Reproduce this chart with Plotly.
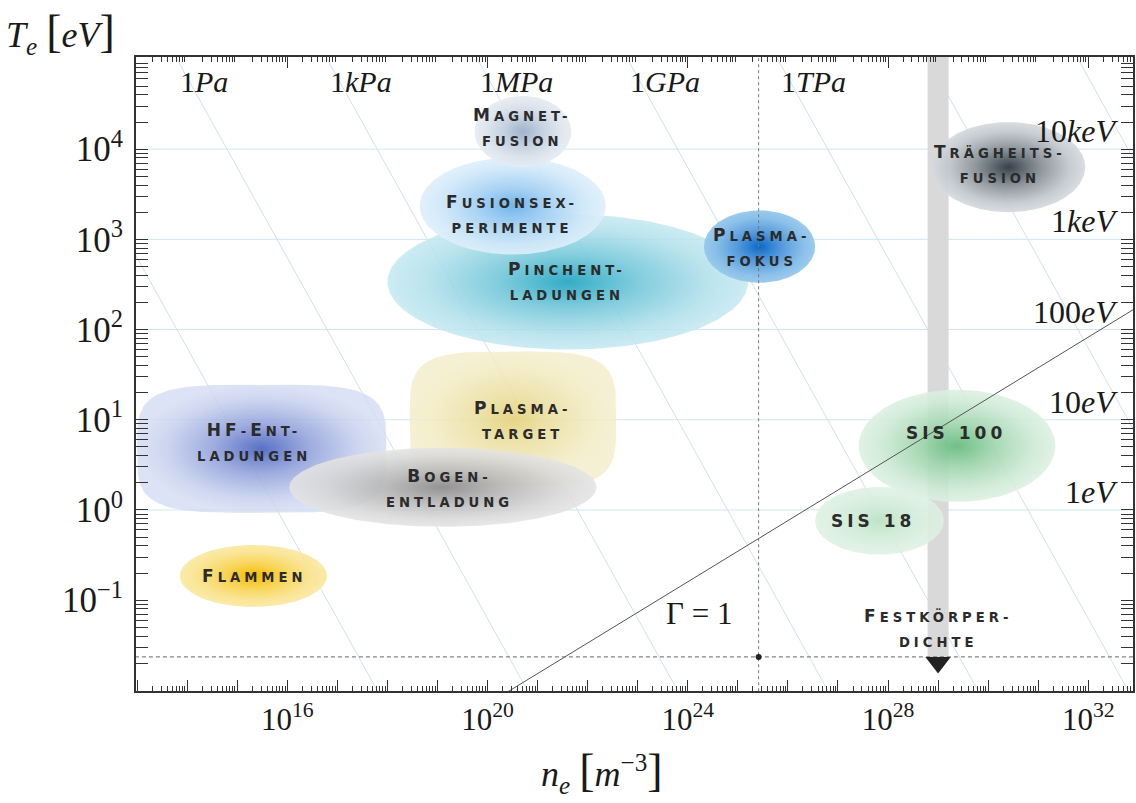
import numpy as np
import plotly.graph_objects as go

# ---------------- data ----------------
E_CHARGE = 1.602e-19

x_label_exp = [16, 20, 24, 28, 32]
y_label_exp = [-1, 0, 1, 2, 3, 4]

# isobars (Pa)
p_values = [1e-3, 1e0, 1e3, 1e6, 1e9, 1e12, 1e15, 1e18]
p_labels = ["", "1<i>Pa</i>", "1<i>kPa</i>", "1<i>MPa</i>", "1<i>GPa</i>", "1<i>TPa</i>", "", ""]

# energy labels on the right side
e_values = [1e4, 1e3, 1e2, 1e1, 1e0]
e_labels = ["10<i>keV</i>", "1<i>keV</i>", "100<i>eV</i>", "10<i>eV</i>", "1<i>eV</i>"]

# temperature grid lines (eV)
grid_T = [1e0, 1e1, 1e2, 1e3, 1e4]

# plasma regions (drawing order)
reg_names = ["HF-Ent-\nladungen", "Plasma-\ntarget", "Bogen-\nentladung", "Flammen",
             "Pinchent-\nladungen", "Fusionsex-\nperimente", "Magnet-\nfusion",
             "Plasma-\nfokus", "Trägheits-\nfusion", "SIS 100", "SIS 18"]
reg_n_lo = [1.0e13, 2.8e18, 1.1e16, 7.1e13, 1.0e18, 4.4e18, 5.5e19, 2.1e24, 7.4e28, 2.6e27, 3.5e26]
reg_n_hi = [9.5e17, 3.7e22, 1.5e22, 6.2e16, 1.6e25, 2.3e22, 4.7e21, 3.5e26, 8.7e31, 2.2e31, 1.3e29]
reg_T_lo = [0.93, 1.8, 0.65, 0.084, 60, 680, 6.3e3, 330, 2.0e3, 1.23, 0.32]
reg_T_hi = [24.5, 57, 4.9, 0.41, 1.9e3, 8.1e3, 3.9e4, 2.1e3, 2.0e4, 21.5, 1.8]
reg_shape = ["rounded", "rounded", "ellipse", "ellipse", "ellipse", "ellipse", "ellipse",
             "ellipse", "ellipse", "ellipse", "ellipse"]
# label anchor (n, T)
lab_n = [2.2e15, 4.9e20, 1.7e19, 2.2e15, 3.9e21, 3.1e20, 4.9e20, 3.0e25, 1.7e30, 2.3e29, 5.1e27]
lab_T = [5.7, 10.0, 1.75, 0.185, 350, 1.9e3, 1.75e4, 815, 6.8e3, 7.2, 0.755]

# reference values
n_solid = 1.0e29          # Festkörperdichte
T_room = 0.0235           # room temperature (eV)
T_marker = 0.0204         # solid density marker
n_dashed = 2.6e25
gamma_n = [2.0e20, 1.0e33]   # Gamma = 1 line end points
gamma_T = [8.9e-3, 180.0]
festk_n, festk_T = 1.0e29, 0.0489
gamma_lab_n, gamma_lab_T = 1.66e24, 0.0718

# ---------------- styles ----------------
center_cols = [(80, 105, 195), (228, 212, 128), (138, 138, 138), (245, 188, 0),
               (40, 168, 195), (105, 178, 235), (155, 176, 202), (10, 105, 200),
               (55, 65, 75), (105, 188, 128), (188, 226, 196)]
edge_cols = [(212, 220, 243), (244, 238, 204), (228, 228, 228), (250, 232, 160),
             (196, 232, 240), (222, 239, 251), (230, 235, 241), (150, 200, 236),
             (214, 218, 223), (220, 240, 225), (222, 241, 227)]
center_alpha = [0.95, 0.95, 0.92, 1.0, 0.95, 0.95, 0.95, 1.0, 1.0, 0.95, 0.95]
edge_alpha = [0.8, 0.85, 0.88, 0.9, 0.85, 0.9, 0.9, 0.95, 0.92, 0.88, 0.88]

SERIF = "Liberation Serif"
XR = [12.977, 32.894]
YR = [-2.007, 5.022]


def rgba(c, a):
    return f"rgba({c[0]},{c[1]},{c[2]},{a})"


def mix(c1, c2, t):
    return tuple(int(round(c1[i] * (1 - t) + c2[i] * t)) for i in range(3))


def blob_outline(n_lo, n_hi, T_lo, T_hi, shape):
    power = 2.0 if shape == "ellipse" else 4.0
    t = np.linspace(0, 2 * np.pi, 241)
    c, s = np.cos(t), np.sin(t)
    e = 2.0 / power
    cx = np.sign(c) * np.abs(c) ** e
    sy = np.sign(s) * np.abs(s) ** e
    lx0, lx1 = np.log10(n_lo), np.log10(n_hi)
    ly0, ly1 = np.log10(T_lo), np.log10(T_hi)
    xm, xr = (lx0 + lx1) / 2, (lx1 - lx0) / 2
    ym, yr = (ly0 + ly1) / 2, (ly1 - ly0) / 2
    return 10 ** (xm + xr * cx), 10 ** (ym + yr * sy)


def small_caps(text, big=17, small=13.2, spacing=4):
    lines = []
    for line in text.split("\n"):
        groups = []
        kind_prev = "big"
        for ch in line:
            if ch == " ":
                kind = kind_prev
            elif ch.isupper() or ch.isdigit():
                kind = "big"
            else:
                kind = "small"
            if groups and groups[-1][0] == kind:
                groups[-1][1] += ch
            else:
                groups.append([kind, ch])
            kind_prev = kind
        html = ""
        for kind, chars in groups:
            size = big if kind == "big" else small
            html += (f"<span style='font-size:{size}px;letter-spacing:{spacing}px'>"
                     f"{chars.upper()}</span>")
        lines.append(html)
    return "<br>".join(lines)


fig = go.Figure()

# grid lines
for T in grid_T:
    fig.add_trace(go.Scatter(x=[10 ** XR[0], 10 ** XR[1]], y=[T, T], mode="lines",
                             line=dict(color="rgba(200,228,242,0.9)", width=1),
                             hoverinfo="skip", showlegend=False))

# isobars T = p / (n e)
iso_n = np.array([1e11, 1e35])
for p in p_values:
    fig.add_trace(go.Scatter(x=iso_n, y=p / (iso_n * E_CHARGE), mode="lines",
                             line=dict(color="rgba(208,222,233,0.95)", width=1),
                             hoverinfo="skip", showlegend=False))

# solid density bar
fig.add_trace(go.Scatter(x=[n_solid, n_solid], y=[T_room, 10 ** (YR[1] + 0.2)], mode="lines",
                         line=dict(color="#d9d9d9", width=21),
                         hoverinfo="skip", showlegend=False))

# plasma regions
for i in range(len(reg_names)):
    bx, by = blob_outline(reg_n_lo[i], reg_n_hi[i], reg_T_lo[i], reg_T_hi[i], reg_shape[i])
    c, e = center_cols[i], edge_cols[i]
    ca, ea = center_alpha[i], edge_alpha[i]
    cs = [[0.0, rgba(c, ca)],
          [0.4, rgba(mix(c, e, 0.5), (ca + ea) / 2)],
          [0.8, rgba(mix(c, e, 0.88), ea)],
          [1.0, rgba(e, ea)]]
    fig.add_trace(go.Scatter(x=bx, y=by, mode="lines", fill="toself",
                             line=dict(width=0, color="rgba(0,0,0,0)"),
                             fillcolor=rgba(e, ea),
                             fillgradient=dict(type="radial", colorscale=cs),
                             hoverinfo="skip", showlegend=False))

# Gamma = 1 line
fig.add_trace(go.Scatter(x=gamma_n, y=gamma_T, mode="lines",
                         line=dict(color="#555555", width=1),
                         hoverinfo="skip", showlegend=False))

# dashed reference lines
fig.add_trace(go.Scatter(x=[10 ** (XR[0] - 1), 10 ** (XR[1] + 1)], y=[T_room, T_room], mode="lines",
                         line=dict(color="#666666", width=1, dash="4px,3px"),
                         hoverinfo="skip", showlegend=False))
fig.add_trace(go.Scatter(x=[n_dashed, n_dashed], y=[10 ** (YR[0] - 1), 10 ** (YR[1] + 1)], mode="lines",
                         line=dict(color="#777777", width=1, dash="3px,3px"),
                         hoverinfo="skip", showlegend=False))
fig.add_trace(go.Scatter(x=[n_dashed], y=[T_room], mode="markers",
                         marker=dict(color="#222222", size=6),
                         hoverinfo="skip", showlegend=False))
fig.add_trace(go.Scatter(x=[n_solid], y=[T_marker], mode="markers",
                         marker=dict(color="#222222", size=22, symbol="triangle-down"),
                         hoverinfo="skip", showlegend=False))

# empty trace that carries the axis for the unlabelled decade ticks
fig.add_trace(go.Scatter(x=[], y=[], xaxis="x2", yaxis="y", hoverinfo="skip", showlegend=False))

annotations = []
lab_font = dict(family="DejaVu Sans", size=19, color="#2b2b2b", weight="bold")
for i, name in enumerate(reg_names):
    annotations.append(dict(x=np.log10(lab_n[i]), y=np.log10(lab_T[i]), xref="x", yref="y",
                            text=small_caps(name), showarrow=False, font=lab_font,
                            xanchor="center", yanchor="middle"))
annotations.append(dict(x=np.log10(festk_n), y=np.log10(festk_T), xref="x", yref="y",
                        text=small_caps("Festkörper-\ndichte"), showarrow=False, font=lab_font,
                        xanchor="center", yanchor="middle"))

# pressure labels
for p, lab in zip(p_values, p_labels):
    if not lab:
        continue
    annotations.append(dict(x=np.log10(p / E_CHARGE) - YR[1], y=1, xref="x", yref="paper",
                            text=lab, showarrow=False, xanchor="left", yanchor="top",
                            xshift=2, yshift=-6,
                            font=dict(family=SERIF, size=30, color="#1a1a1a")))

# energy labels
for v, lab in zip(e_values, e_labels):
    annotations.append(dict(x=0.987, y=np.log10(v), xref="paper", yref="y",
                            text=lab, showarrow=False, xanchor="right", yanchor="middle",
                            yshift=18, font=dict(family=SERIF, size=32, color="#1a1a1a")))

# Gamma label
annotations.append(dict(x=np.log10(gamma_lab_n), y=np.log10(gamma_lab_T), xref="x", yref="y",
                        text="Γ = 1", showarrow=False, xanchor="center", yanchor="middle",
                        font=dict(family=SERIF, size=31, color="#1a1a1a")))

# axis titles
annotations.append(dict(x=-0.076, y=1.038, xref="paper", yref="paper",
                        text="<i>T</i><sub><i>e</i></sub> <span style='font-size:46px'>[</span>"
                             "<i>eV</i><span style='font-size:46px'>]</span>",
                        showarrow=False, xanchor="center", yanchor="middle",
                        font=dict(family=SERIF, size=36, color="#1a1a1a")))
annotations.append(dict(x=0.4675, y=-0.128, xref="paper", yref="paper",
                        text="<i>n</i><sub><i>e</i></sub> <span style='font-size:46px'>[</span>"
                             "<i>m</i><sup>−3</sup><span style='font-size:46px'>]</span>",
                        showarrow=False, xanchor="center", yanchor="middle",
                        font=dict(family=SERIF, size=36, color="#1a1a1a")))

x_labvals = [10.0 ** d for d in x_label_exp]
x_labtext = [f"10<sup>{d}</sup>" for d in x_label_exp]
x_other_decades = [10.0 ** d for d in range(13, 34) if d not in x_label_exp]
y_labvals = [10.0 ** d for d in y_label_exp]
y_labtext = [f"10<sup>{str(d).replace('-', '−')}</sup>" for d in y_label_exp]
x_minor = [m * 10.0 ** d for d in range(12, 34) for m in range(2, 10)]
y_minor = [m * 10.0 ** d for d in range(-3, 6) for m in range(2, 10)]

fig.update_layout(
    width=1136, height=803,
    margin=dict(l=136, r=1, t=57, b=112),
    paper_bgcolor="white", plot_bgcolor="white",
    showlegend=False,
    annotations=annotations,
    xaxis=dict(type="log", range=XR, showgrid=False, zeroline=False,
               showline=True, linecolor="#333333", linewidth=2, mirror="allticks",
               ticks="inside", ticklen=11, tickwidth=1.3, tickcolor="#333333",
               tickvals=x_labvals, ticktext=x_labtext,
               tickfont=dict(family=SERIF, size=31, color="#1a1a1a"),
               minor=dict(ticks="inside", ticklen=5, tickwidth=1, tickcolor="#333333",
                          tickvals=x_minor, showgrid=False)),
    xaxis2=dict(type="log", range=XR, overlaying="x", anchor="y", side="bottom",
                showgrid=False, zeroline=False, showline=False, mirror="allticks",
                ticks="", tickvals=[], showticklabels=False,
                minor=dict(ticks="inside", ticklen=11, tickwidth=1.3, tickcolor="#333333",
                           tickvals=x_other_decades, showgrid=False)),
    yaxis=dict(type="log", range=YR, showgrid=False, zeroline=False,
               showline=True, linecolor="#333333", linewidth=2, mirror="allticks",
               ticks="inside", ticklen=12, tickwidth=1.3, tickcolor="#333333",
               tickvals=y_labvals, ticktext=y_labtext, ticklabelstandoff=4,
               tickfont=dict(family=SERIF, size=35, color="#1a1a1a"),
               minor=dict(ticks="inside", ticklen=6, tickwidth=1, tickcolor="#333333",
                          tickvals=y_minor, showgrid=False)),
)

fig.write_html("out.html", config={"displayModeBar": False},
               post_script="document.body.style.margin='0px';document.body.style.overflow='hidden';")
